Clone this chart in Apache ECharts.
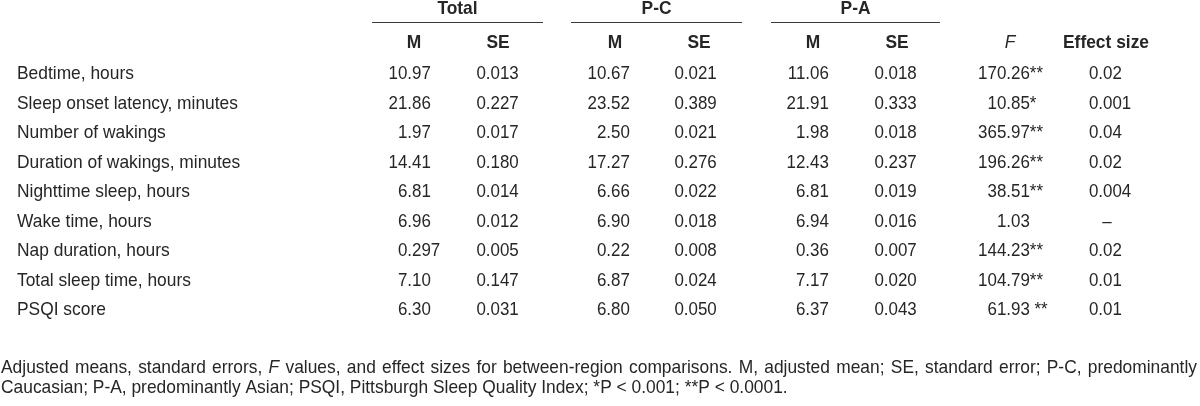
<!DOCTYPE html>
<html>
<head>
<meta charset="utf-8">
<script src="https://cdn.jsdelivr.net/npm/echarts@6/dist/echarts.min.js"></script>
<style>
html,body{margin:0;padding:0;background:#fff;}
#chart{width:1200px;height:406px;}
</style>
</head>
<body>
<div id="chart"></div>
<script>
// ---- data ----
const rowLabels = [
  'Bedtime, hours',
  'Sleep onset latency, minutes',
  'Number of wakings',
  'Duration of wakings, minutes',
  'Nighttime sleep, hours',
  'Wake time, hours',
  'Nap duration, hours',
  'Total sleep time, hours',
  'PSQI score'
];
const groupHeaders = ['Total', 'P-C', 'P-A'];
const subHeaders = ['M', 'SE', 'M', 'SE', 'M', 'SE', 'F', 'Effect size'];
const totalM  = ['10.97', '21.86', '1.97', '14.41', '6.81', '6.96', '0.297', '7.10', '6.30'];
const totalSE = ['0.013', '0.227', '0.017', '0.180', '0.014', '0.012', '0.005', '0.147', '0.031'];
const pcM     = ['10.67', '23.52', '2.50', '17.27', '6.66', '6.90', '0.22', '6.87', '6.80'];
const pcSE    = ['0.021', '0.389', '0.021', '0.276', '0.022', '0.018', '0.008', '0.024', '0.050'];
const paM     = ['11.06', '21.91', '1.98', '12.43', '6.81', '6.94', '0.36', '7.17', '6.37'];
const paSE    = ['0.018', '0.333', '0.018', '0.237', '0.019', '0.016', '0.007', '0.020', '0.043'];
const fValues = ['170.26', '10.85', '365.97', '196.26', '38.51', '1.03', '144.23', '104.79', '61.93'];
const fSig    = ['**', '*', '**', '**', '**', '', '**', '**', ' **'];
const effectSize = ['0.02', '0.001', '0.04', '0.02', '0.004', '–', '0.02', '0.01', '0.01'];
const footnoteLine1 = 'Adjusted means, standard errors, F values, and effect sizes for between-region comparisons. M, adjusted mean; SE, standard error; P-C, predominantly';
const footnoteItalicWords = ['F'];
const footnoteLine2 = 'Caucasian; P-A, predominantly Asian; PSQI, Pittsburgh Sleep Quality Index; *P < 0.001; **P < 0.0001.';

// ---- layout ----
const FONT = "'Liberation Sans', Arial, Helvetica, sans-serif";
const FS = 18.6;
const SX = 0.935;         // horizontal condensing of the typeface (words)
const SXN = 0.91;         // horizontal condensing for numbers
const COLOR = '#262626';
const labelX = 17;
const columns = [
  {values: totalM,  anchor: 412},
  {values: totalSE, anchor: 490.5},
  {values: pcM,     anchor: 611},
  {values: pcSE,    anchor: 688.5},
  {values: paM,     anchor: 810},
  {values: paSE,    anchor: 888.5},
  {values: fValues, anchor: 1011, suffix: fSig},
  {values: effectSize, anchor: 1103, dashCenter: 1107}
];
const subHeaderX = [414, 498, 615, 699, 813, 897, 1010, 1106];
const groupSpans = [[372, 543], [571, 742], [771, 940]];
const footX = 1, footRight = 1197;

const chart = echarts.init(document.getElementById('chart'), null, {renderer: 'canvas'});

function txt(text, x, y, align, extra, sx) {
  return {
    type: 'text', x: x, y: y, scaleX: sx || SX, scaleY: 1,
    style: Object.assign({text: text, x: 0, y: 0, fill: COLOR, fontFamily: FONT, fontSize: FS,
      align: align, verticalAlign: 'middle'}, extra || {})
  };
}

function cellTexts(col, r, x, y) {
  const v = col.values[r];
  if (col.dashCenter !== undefined && v.indexOf('.') < 0) {
    return [txt(v, x + (col.dashCenter - col.anchor), y, 'center', null, SXN)];
  }
  const i = v.indexOf('.');
  let right = v.slice(i + 1);
  if (col.suffix) right += col.suffix[r];
  return [txt(v.slice(0, i + 1), x, y, 'right', null, SXN), txt(right, x, y, 'left', null, SXN)];
}

// measure words for the justified first footnote line
const mctx = document.createElement('canvas').getContext('2d');
function measure(word, italic) {
  mctx.font = (italic ? 'italic ' : '') + FS + 'px ' + FONT;
  return mctx.measureText(word).width * SX;
}

const graphics = [];
groupHeaders.forEach((g, i) => {
  const [a, b] = groupSpans[i];
  graphics.push(txt(g, (a + b) / 2, 8.5, 'center', {fontWeight: 'bold'}));
  graphics.push({type: 'line', shape: {x1: a, y1: 22.5, x2: b, y2: 22.5},
    style: {stroke: '#3a3a3a', lineWidth: 1}});
});
subHeaders.forEach((h, i) => {
  const isF = h === 'F';
  graphics.push(txt(h, subHeaderX[i], 43, 'center',
    {fontWeight: isF ? 'normal' : 'bold', fontStyle: isF ? 'italic' : 'normal'}));
});
// footnote line 1 (justified)
(function () {
  const words = footnoteLine1.split(' ');
  const widths = words.map(w => measure(w, footnoteItalicWords.indexOf(w) >= 0));
  const total = widths.reduce((a, b) => a + b, 0);
  const gap = (footRight - footX - total) / (words.length - 1);
  let x = footX;
  words.forEach((w, i) => {
    const it = footnoteItalicWords.indexOf(w) >= 0;
    graphics.push(txt(w, x, 367.5, 'left', it ? {fontStyle: 'italic'} : {}));
    x += widths[i] + gap;
  });
})();
graphics.push(txt(footnoteLine2, footX, 388, 'left'));

const option = {
  animation: false,
  backgroundColor: '#ffffff',
  grid: {left: 0, right: 0, top: 59.25, height: 265.5, containLabel: false},
  xAxis: {type: 'value', min: 0, max: 1200, show: false},
  yAxis: {type: 'category', data: rowLabels, inverse: true, show: false},
  graphic: graphics,
  series: [{
    type: 'custom',
    coordinateSystem: 'cartesian2d',
    data: rowLabels.map((_, i) => [0, i]),
    renderItem: function (params, api) {
      const r = api.value(1);
      const y = api.coord([0, r])[1];
      const children = [txt(rowLabels[r], api.coord([labelX, r])[0], y, 'left')];
      columns.forEach(col => {
        const x = api.coord([col.anchor, r])[0];
        cellTexts(col, r, x, y).forEach(t => children.push(t));
      });
      return {type: 'group', children: children};
    }
  }]
};
chart.setOption(option);
</script>
</body>
</html>
